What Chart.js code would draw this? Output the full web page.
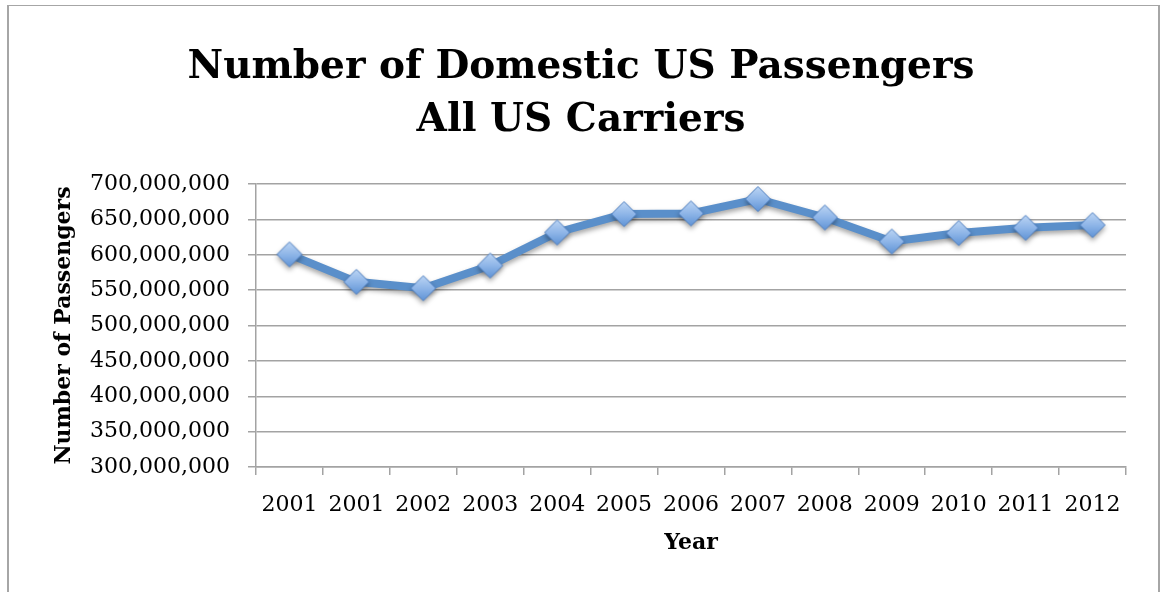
<!DOCTYPE html>
<html>
<head>
<meta charset="utf-8">
<script src="https://cdn.jsdelivr.net/npm/chart.js@4"></script>
<style>
  html, body { margin: 0; padding: 0; background: #fff; overflow: hidden; }
  #wrap { position: relative; width: 1162px; height: 592px; }
  #frame { position: absolute; left: 7px; top: 5px; width: 1149px; height: 600px;
           border-left: 2px solid #a6a6a6; border-right: 2px solid #a6a6a6; border-top: 1px solid #a6a6a6; }
  canvas { position: absolute; left: 0; top: 0; }
</style>
</head>
<body>
<div id="wrap">
  <div id="frame"></div>
  <canvas id="c" width="1162" height="592"></canvas>
</div>
<script>
// Domestic passengers carried by all US carriers, by year
const years = ['2001', '2001', '2002', '2003', '2004', '2005', '2006', '2007', '2008', '2009', '2010', '2011', '2012'];
const passengers = [600600000, 561800000, 552800000, 584800000, 631600000, 657600000, 658500000,
                    678900000, 652800000, 618800000, 630700000, 638200000, 642000000];
const titleLines = ['Number of Domestic US Passengers', 'All US Carriers'];
const yAxisTitle = 'Number of Passengers';
const xAxisTitle = 'Year';
const yMin = 300000000, yMax = 700000000, yStep = 50000000;

Chart.defaults.font.family = '"DejaVu Serif", serif';
Chart.defaults.color = '#000';

// Diamond marker sprite with a soft blue gradient
function makeDiamond() {
  const s = 28, c = s / 2, r = 12.5;
  const cv = document.createElement('canvas');
  cv.width = s; cv.height = s;
  const g = cv.getContext('2d');
  const grad = g.createLinearGradient(0, c - r, 0, c + r);
  grad.addColorStop(0, '#bcd5f4');
  grad.addColorStop(0.5, '#8fb6e8');
  grad.addColorStop(1, '#5f93d6');
  g.beginPath();
  g.moveTo(c, c - r); g.lineTo(c + r, c); g.lineTo(c, c + r); g.lineTo(c - r, c); g.closePath();
  g.fillStyle = grad; g.fill();
  g.lineWidth = 1; g.strokeStyle = '#4f80c2'; g.stroke();
  return cv;
}

// Soft drop shadow under the line and markers
const shadowPlugin = {
  id: 'lineShadow',
  beforeDatasetDraw(chart) {
    const ctx = chart.ctx;
    ctx.save();
    ctx.shadowColor = 'rgba(0,0,0,0.35)';
    ctx.shadowBlur = 5;
    ctx.shadowOffsetX = 0;
    ctx.shadowOffsetY = 3;
  },
  afterDatasetDraw(chart) { chart.ctx.restore(); }
};

const gridGrey = '#a3a3a3';

new Chart(document.getElementById('c'), {
  type: 'line',
  data: {
    labels: years,
    datasets: [{
      data: passengers,
      yAxisID: 'y',
      borderColor: '#5a8fca',
      borderWidth: 8,
      tension: 0,
      pointStyle: makeDiamond(),
      pointRadius: 12,
      pointHoverRadius: 12,
      fill: false
    }]
  },
  options: {
    responsive: false,
    animation: false,
    layout: { padding: { left: 0, right: 0, top: 0, bottom: 0 } },
    plugins: {
      legend: { display: false },
      tooltip: { enabled: false },
      title: {
        display: true,
        text: titleLines,
        color: '#000',
        font: { size: 39, weight: 'bold', lineHeight: 1.36 },
        padding: { top: 41, bottom: 37 }
      }
    },
    scales: {
      x: {
        type: 'category',
        offset: true,
        grid: { offset: true, drawOnChartArea: false, drawTicks: true, tickLength: 8, color: gridGrey, lineWidth: 1.5 },
        border: { display: true, color: gridGrey, width: 1.5 },
        ticks: { font: { size: 22 }, padding: 17, maxRotation: 0, autoSkip: false, color: '#000' },
        title: { display: true, text: xAxisTitle, font: { size: 22, weight: 'bold' }, padding: { top: 0, bottom: 36 }, color: '#000' },
        afterFit(scale) { scale.height = 125; }
      },
      y: {
        min: yMin,
        max: yMax,
        grid: { drawTicks: true, tickLength: 8, color: gridGrey, lineWidth: 1.5 },
        border: { display: true, color: gridGrey, width: 1.5 },
        ticks: {
          stepSize: yStep,
          font: { size: 22 },
          padding: 18,
          color: '#000',
          callback: v => Number(v).toLocaleString('en-US')
        },
        title: { display: true, text: yAxisTitle, font: { size: 22, weight: 'bold' }, padding: { top: 51, bottom: 0 }, color: '#000' },
        afterFit(scale) { scale.width = 256; }
      },
      // empty right-hand margin so the plot ends where the frame leaves room
      yRight: {
        position: 'right',
        display: true,
        grid: { display: false, drawTicks: false },
        border: { display: false },
        ticks: { display: false },
        afterFit(scale) { scale.width = 36; }
      }
    }
  },
  plugins: [shadowPlugin]
});
</script>
</body>
</html>
